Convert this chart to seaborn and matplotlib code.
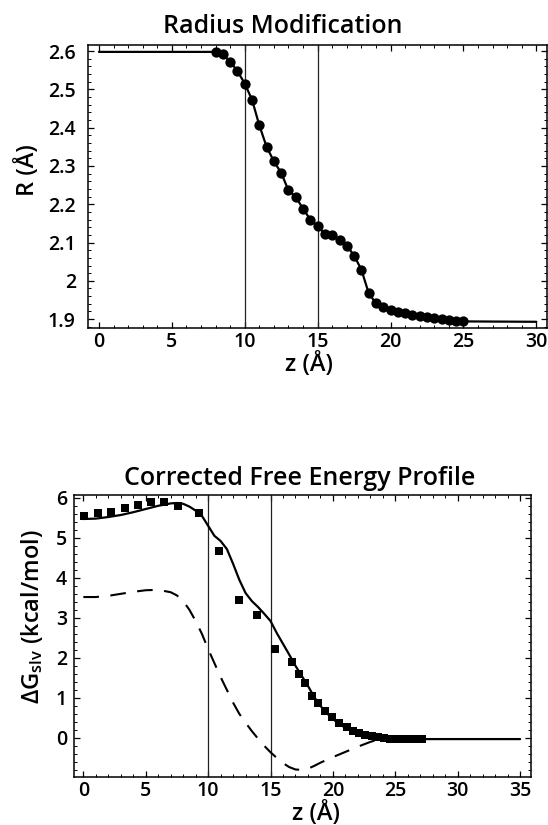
import numpy as np
import matplotlib
matplotlib.use("Agg")
import matplotlib.pyplot as plt
from matplotlib.ticker import MultipleLocator, FuncFormatter
import seaborn as sns

# === radius data (top panel) ===
r_z = [0, 8.0, 8.5, 9.0, 9.5, 10.0, 10.5, 11.0, 11.5, 12.0, 12.5, 13.0, 13.5,
       14.0, 14.5, 15.0, 15.5, 16.0, 16.5, 17.0, 17.5, 18.0, 18.5, 19.0, 19.5,
       20.0, 20.5, 21.0, 21.5, 22.0, 22.5, 23.0, 23.5, 24.0, 24.5, 25.0, 30]
r_val = [2.598, 2.598, 2.592, 2.572, 2.548, 2.515, 2.473, 2.406, 2.350, 2.312,
         2.282, 2.236, 2.219, 2.188, 2.160, 2.142, 2.123, 2.119, 2.106, 2.092,
         2.066, 2.029, 1.968, 1.941, 1.932, 1.924, 1.919, 1.915, 1.912, 1.908,
         1.905, 1.902, 1.900, 1.898, 1.896, 1.894, 1.893]

# === free energy data (bottom panel) ===
sq_z = [0.05, 1.2, 2.25, 3.3, 4.4, 5.45, 6.5, 7.55, 9.25, 10.85, 12.5, 13.95,
        15.35, 16.75, 17.25, 17.8, 18.3, 18.8, 19.35, 19.9, 20.5, 21.1, 21.6,
        22.1, 22.6, 23.1, 23.6, 24.1, 24.6, 25.0, 25.3, 25.6, 25.9, 26.2, 26.5,
        26.8, 27.1]
sq_g = [5.54, 5.61, 5.65, 5.75, 5.82, 5.90, 5.90, 5.79, 5.62, 4.67, 3.44, 3.07,
        2.22, 1.90, 1.60, 1.37, 1.05, 0.88, 0.68, 0.52, 0.37, 0.26, 0.17,
        0.11, 0.07, 0.04, 0.02, 0.0, -0.02, -0.03, -0.03, -0.03, -0.03, -0.03,
        -0.03, -0.03, -0.03]

fit_z = [0, 1, 2, 3, 4, 5, 6, 7, 7.5, 8, 8.5, 9, 9.5, 10, 10.5, 11, 11.5, 12,
         12.5, 13, 13.5, 14, 14.5, 15, 15.5, 16, 16.5, 17, 17.5, 18, 18.5, 19,
         19.5, 20, 20.5, 21, 21.5, 22, 22.5, 23, 23.5, 24, 25, 26, 35]
fit_g = [5.47, 5.48, 5.52, 5.57, 5.64, 5.72, 5.80, 5.86, 5.87, 5.85, 5.78,
         5.68, 5.55, 5.30, 5.05, 4.92, 4.72, 4.35, 3.95, 3.62, 3.42, 3.27,
         3.10, 2.92, 2.62, 2.35, 2.08, 1.80, 1.55, 1.30, 1.02, 0.80, 0.62,
         0.47, 0.35, 0.25, 0.17, 0.10, 0.06, 0.03, 0.01, 0.0, -0.02, -0.03,
         -0.03]

unc_z = [0, 1, 2, 3, 4, 5, 6, 7, 7.5, 8, 8.5, 9, 9.5, 10, 10.5, 11, 11.5, 12,
         12.5, 13, 13.5, 14, 14.5, 15, 15.5, 16, 16.5, 17, 17.5, 18, 18.5, 19,
         20, 21, 22, 23, 23.5]
unc_g = [3.52, 3.52, 3.55, 3.60, 3.65, 3.69, 3.70, 3.64, 3.56, 3.42, 3.20,
         2.92, 2.60, 2.22, 1.87, 1.52, 1.20, 0.88, 0.60, 0.38, 0.17, -0.02,
         -0.20, -0.36, -0.50, -0.63, -0.73, -0.79, -0.80, -0.77, -0.70, -0.62,
         -0.48, -0.35, -0.22, -0.10, -0.05]

boundaries = [10, 15]

sns.set_theme(style="ticks")
plt.rcParams['font.family'] = ['Open Sans', 'DejaVu Sans']
plt.rcParams['font.weight'] = 'semibold'
plt.rcParams['mathtext.default'] = 'regular'
plt.rcParams['text.color'] = 'black'
plt.rcParams['axes.labelcolor'] = 'black'
plt.rcParams['axes.labelweight'] = 'semibold'

fig = plt.figure(figsize=(5.48, 8.25), dpi=100)
ax1 = fig.add_axes([88.3 / 548, 1 - 328.3 / 825, 459 / 548, 283.3 / 825])
ax2 = fig.add_axes([74 / 548, 1 - 776.7 / 825, 456.7 / 548, 281.7 / 825])

fmt = FuncFormatter(lambda v, p: '%g' % round(v, 3))

# === top: radius ===
sns.lineplot(x=r_z, y=r_val, ax=ax1, color='black', lw=1.6, sort=False,
             estimator=None)
sns.scatterplot(x=r_z[1:-1], y=r_val[1:-1], ax=ax1, color='black', s=55,
                edgecolor='black', linewidth=0, zorder=3)
ax1.set_xlim(-0.73, 30.75)
ax1.set_ylim(1.876, 2.616)
ax1.xaxis.set_major_locator(MultipleLocator(5))
ax1.xaxis.set_minor_locator(MultipleLocator(1))
ax1.yaxis.set_major_locator(MultipleLocator(0.1))
ax1.yaxis.set_minor_locator(MultipleLocator(0.02))
ax1.yaxis.set_major_formatter(fmt)
ax1.set_ylabel('R (Å)', fontsize=17)
ax1.set_xlabel('z (Å)', fontsize=17, va='top')
ax1.yaxis.set_label_coords(-0.105, 0.56)
ax1.xaxis.set_label_coords(0.481, -0.085)
ax1.tick_params(axis='y', pad=9)

# === bottom: free energy ===
sns.lineplot(x=fit_z, y=fit_g, ax=ax2, color='black', lw=1.6, sort=False,
             estimator=None)
sns.lineplot(x=unc_z, y=unc_g, ax=ax2, color='black', lw=1.5, sort=False,
             estimator=None, dashes=False, linestyle=(0, (7.5, 5.5)))
sns.scatterplot(x=sq_z, y=sq_g, ax=ax2, color='black', marker='s', s=36,
                linewidth=0, zorder=3)
ax2.set_xlim(-0.75, 35.85)
ax2.set_ylim(-0.97, 6.07)
ax2.xaxis.set_major_locator(MultipleLocator(5))
ax2.xaxis.set_minor_locator(MultipleLocator(1))
ax2.yaxis.set_major_locator(MultipleLocator(1))
ax2.yaxis.set_minor_locator(MultipleLocator(0.2))
ax2.yaxis.set_major_formatter(fmt)
ax2.set_ylabel(r'ΔG$_{\mathregular{slv}}$ (kcal/mol)', fontsize=17)
ax2.set_xlabel('z (Å)', fontsize=17, va='top')
ax2.yaxis.set_label_coords(-0.0635, 0.569)
ax2.xaxis.set_label_coords(0.53, -0.088)
ax2.tick_params(axis='y', pad=5)

for ax in (ax1, ax2):
    for b in boundaries:
        ax.axvline(b, color='#222222', lw=0.9, zorder=1)
    ax.tick_params(which='both', direction='in', top=True, right=True,
                   labelsize=14, colors='black')
    ax.tick_params(which='major', length=4, width=0.9)
    ax.tick_params(which='minor', length=2.2, width=0.7)
    ax.tick_params(axis='x', pad=3)
    for s in ax.spines.values():
        s.set_linewidth(1.1)
        s.set_color('black')

fig.text(282.5 / 548, 1 - 33 / 825, 'Radius Modification', fontsize=18,
         ha='center', va='baseline')
fig.text(300 / 548, 1 - 485 / 825, 'Corrected Free Energy Profile',
         fontsize=18, ha='center', va='baseline')

fig.savefig('out.png', dpi=100)
